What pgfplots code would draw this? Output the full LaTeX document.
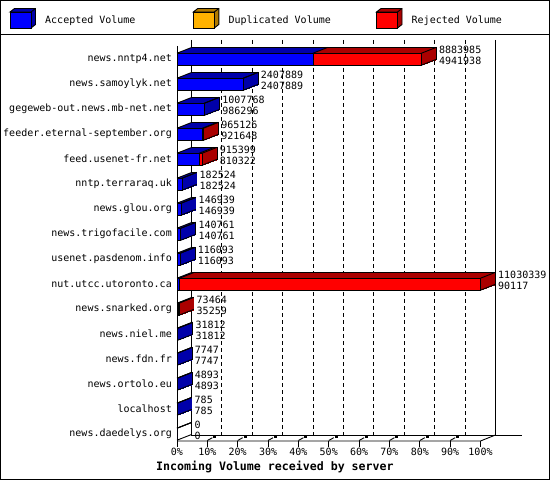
\documentclass[border=0pt]{standalone}
\usepackage{fontspec}
\usepackage{pgfplots}
\usepackage{pgfplotstable}
\pgfplotsset{compat=1.18}

\newfontfamily\gdfont{DejaVu Sans Mono}
\newcommand\lbl{\gdfont\fontsize{10bp}{11bp}\selectfont}
\newcommand\ttl{\gdfont\bfseries\fontsize{11.6bp}{13bp}\selectfont}

\definecolor{accblue}{RGB}{0,0,255}
\definecolor{accdark}{RGB}{0,0,170}
\definecolor{rejred}{RGB}{255,0,0}
\definecolor{rejdark}{RGB}{170,0,0}
\definecolor{dupor}{RGB}{255,178,0}
\definecolor{dupdark}{RGB}{176,122,0}

% slanted edges of the 3d bars
\pgfdeclareplotmark{edgeR}{%
  \pgfpathmoveto{\pgfqpoint{0bp}{6bp}}\pgfpathlineto{\pgfqpoint{14.8bp}{11.8bp}}%
  \pgfpathmoveto{\pgfqpoint{0bp}{-6bp}}\pgfpathlineto{\pgfqpoint{14.8bp}{-0.2bp}}%
  \pgfusepathqstroke}
\pgfdeclareplotmark{edgeT}{%
  \pgfpathmoveto{\pgfqpoint{0bp}{6bp}}\pgfpathlineto{\pgfqpoint{14.8bp}{11.8bp}}%
  \pgfusepathqstroke}

% total incoming and accepted, per server
\pgfplotstableread{
name y tot acc
news.nntp4.net 15 8883985 4941938
news.samoylyk.net 14 2407889 2407889
gegeweb-out.news.mb-net.net 13 1007768 986296
feeder.eternal-september.org 12 965126 921648
feed.usenet-fr.net 11 915399 810322
nntp.terraraq.uk 10 182524 182524
news.glou.org 9 146939 146939
news.trigofacile.com 8 140761 140761
usenet.pasdenom.info 7 116093 116093
nut.utcc.utoronto.ca 6 11030339 90117
news.snarked.org 5 73464 35259
news.niel.me 4 31812 31812
news.fdn.fr 3 7747 7747
news.ortolo.eu 2 4893 4893
localhost 1 785 785
news.daedelys.org 0 0 0
}\data

\pgfplotsset{
  base/.style={scale only axis, width=303.5bp, height=395bp,
    xmin=0, xmax=100, ymin=-0.272, ymax=15.528, clip=false, anchor=south west},
  slab/.style={xbar, bar width=12bp, bar shift=0pt},
  table/pct/.style={x expr=\thisrow{#1}/110303.39, y=y},
}

\begin{document}
\begin{tikzpicture}
\path[use as bounding box] (0bp,0bp) rectangle (550bp,480bp);

% back wall, grid and floor
\begin{scope}[x=1bp,y=1bp]
  \foreach \i in {1,...,9}
    \draw[black, line width=0.9bp, dash pattern=on 4bp off 3bp]
      (191.5+30.4*\i,440) -- (191.5+30.4*\i,45);
  \draw[line width=0.9bp] (191.5,440) -- (191.5,45) -- (522,45);
  \draw[line width=0.9bp] (495.5,440) -- (495.5,45);
  \draw[line width=0.9bp] (177,434) -- (177,33);
  \draw[line width=0.9bp] (177,39) -- (480.5,39) -- (495.5,45);
  \foreach \i in {1,...,10}
    \draw[line width=0.9bp] (177+30.35*\i,39) -- (177+30.35*\i,33);
  \foreach \i in {1,...,9}{
    \draw[line width=0.9bp] (177+30.35*\i,39.5) -- (182+30.35*\i,42.3);
    \fill (183+30.35*\i,42.3) rectangle (186+30.35*\i,45);}
\end{scope}

% back outline of the bars
\begin{axis}[base, hide axis, at={(191.8bp,44.8bp)}]
  \addplot[slab, fill=rejdark, draw=black, line width=1.2bp,
    restrict x to domain=0.000001:200] table[pct=tot] {\data};
  \addplot[slab, fill=accdark, draw=black, line width=1.2bp,
    restrict x to domain=0.000001:200] table[pct=acc] {\data};
\end{axis}

% depth of the bars
\foreach \k in {14,13,...,1}{
\begin{axis}[base, hide axis, at={(177bp+\k*1bp,39bp+\k*0.3571bp)}]
  \addplot[slab, fill=rejdark, draw=rejdark, line width=1bp,
    restrict x to domain=0.000001:200] table[pct=tot] {\data};
  \addplot[slab, fill=accdark, draw=accdark, line width=1bp,
    restrict x to domain=0.000001:200] table[pct=acc] {\data};
\end{axis}}

% front faces, labels
\begin{axis}[base, at={(177bp,39bp)}, axis line style={draw=none},
  major tick length=0pt,
  xtick={0,10,...,100},
  xticklabel={\pgfmathprintnumber{\tick}\%},
  xticklabel style={font=\lbl, anchor=center, inner sep=0pt, yshift=-11bp},
  ytick={15,14,...,0},
  yticklabels from table={\data}{name},
  yticklabel style={font=\lbl, anchor=east, inner sep=0pt, xshift=-5bp},
  /pgf/number format/assume math mode=true]
  \addplot[slab, fill=rejred, draw=black, line width=0.9bp] table[pct=tot] {\data};
  \addplot[slab, fill=accblue, draw=black, line width=0.9bp] table[pct=acc] {\data};
  \addplot[only marks, mark=edgeR, mark options={black, line width=0.9bp}] table[pct=tot] {\data};
  \addplot[only marks, mark=edgeT, mark options={black, line width=0.9bp}] table[pct=acc] {\data};
  \addplot[only marks, mark=edgeT, mark options={black, line width=0.9bp}] table[x expr=0, y=y] {\data};
  \addplot[draw=none, mark=none, nodes near coords={\pgfplotspointmeta},
    point meta=explicit symbolic, nodes near coords align={horizontal},
    every node near coord/.append style={font=\lbl, anchor=west, inner sep=0pt,
      xshift=17.5bp, yshift=9.5bp}]
    table[pct=tot, meta=tot] {\data};
  \addplot[draw=none, mark=none, nodes near coords={\pgfplotspointmeta},
    point meta=explicit symbolic, nodes near coords align={horizontal},
    every node near coord/.append style={font=\lbl, anchor=west, inner sep=0pt,
      xshift=17.5bp, yshift=-2bp}]
    table[pct=tot, meta=acc] {\data};
\end{axis}

% legend, title and frame
\begin{scope}[x=1bp,y=1bp]
  \foreach \dx/\fc/\dc/\txt in {0/accblue/accdark/Accepted Volume,
      183.3/dupor/dupdark/Duplicated Volume,
      366.5/rejred/rejdark/Rejected Volume}{
    \begin{scope}[xshift=\dx bp]
      \filldraw[fill=\dc, draw=black, line width=0.9bp]
        (10,468) -- (14.5,471.5) -- (35.5,471.5) -- (35.5,455.5) -- (31,452) -- (31,468) -- cycle;
      \draw[line width=0.9bp] (31,468) -- (35.5,471.5);
      \filldraw[fill=\fc, draw=black, line width=0.9bp] (10,452) rectangle (31,468);
      \node[anchor=west, inner sep=0pt, font=\lbl] at (45,459.3) {\txt};
    \end{scope}}
  \node[anchor=west, inner sep=0pt, font=\ttl] at (156,13) {Incoming Volume received by server};
  \draw[line width=1.5bp] (0,445.5) -- (550,445.5);
  \draw[line width=1.5bp] (0.75,0.75) rectangle (549.25,479.25);
\end{scope}
\end{tikzpicture}
\end{document}
